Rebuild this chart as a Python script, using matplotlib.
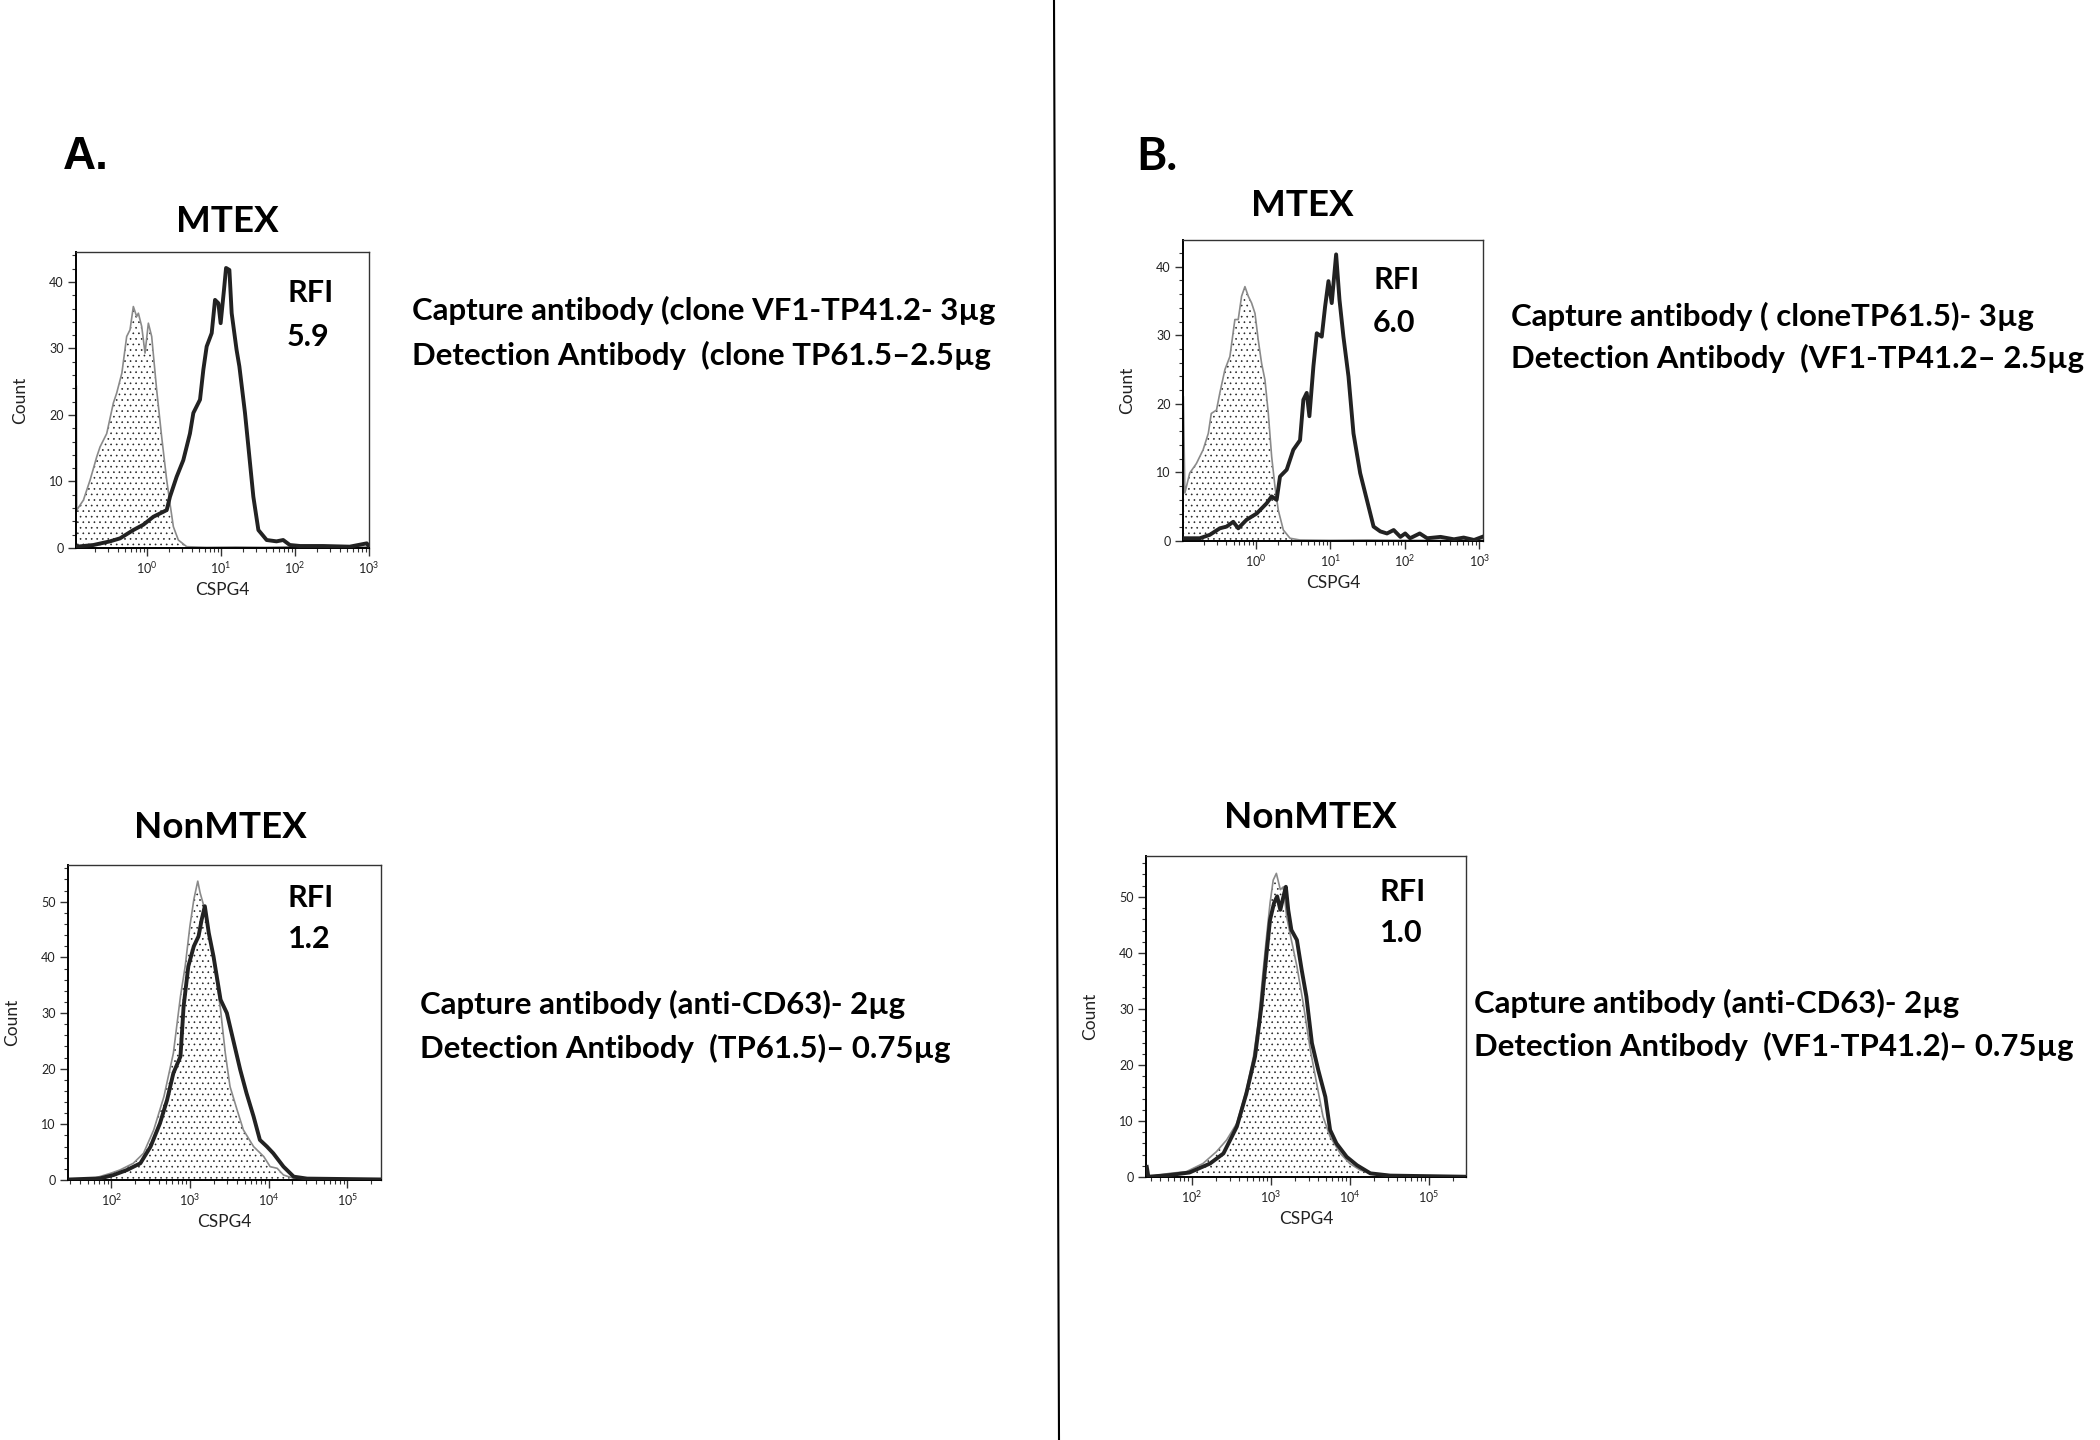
import numpy as np
import matplotlib.pyplot as plt
from matplotlib.ticker import MultipleLocator, LogLocator, NullFormatter

# Werte abgelesen aus der Vorlage
# x = log10(CSPG4), y = Count ; ctrl = graue gepunktete Kurve, samp = schwarze Kurve

# A oben, MTEX
a1_ctrl_x = [-0.955, -0.95, -0.86, -0.77, -0.68, -0.635, -0.545, -0.455, -0.41, -0.34, -0.275, -0.23,
             -0.185, -0.14, -0.117, -0.072, -0.027, 0.018, 0.063, 0.13, 0.198, 0.266, 0.31, 0.356,
             0.423, 0.536, 0.8, 1.2, 1.6, 2.0, 2.5, 3.0]
a1_ctrl_y = [24.3, 5.7, 7.2, 10.2, 13.7, 15.2, 17.2, 21.8, 23.3, 26.3, 31.8, 32.8,
             36.3, 34.8, 35.3, 33.3, 29.3, 33.8, 31.8, 23.8, 16.7, 10.2, 6.7, 3.2,
             1.2, 0.2, 0.1, 0.15, 0.1, 0.2, 0.1, 0.15]
a1_samp_x = [-0.95, -0.725, -0.5, -0.365, -0.185, -0.05, 0.086, 0.266, 0.31, 0.4, 0.49, 0.58, 0.626,
             0.716, 0.761, 0.806, 0.874, 0.919, 0.964, 0.995, 1.04, 1.068, 1.113, 1.144, 1.21,
             1.248, 1.324, 1.37, 1.437, 1.505, 1.617, 1.75, 1.84, 1.93, 2.07, 2.38, 2.74, 2.97, 3.0]
a1_samp_y = [0.2, 0.45, 1.0, 1.45, 2.7, 3.5, 4.7, 5.7, 7.7, 10.7, 13.2, 17.2, 20.3,
             22.3, 26.8, 30.3, 32.3, 37.3, 36.8, 33.8, 38.8, 42.1, 41.8, 35.3, 29.8,
             27.3, 20.3, 15.2, 7.7, 2.7, 1.2, 1.0, 1.2, 0.45, 0.3, 0.3, 0.2, 0.7, 0.2]

# B oben, MTEX
b1_ctrl_x = [-0.975, -0.955, -0.89, -0.8, -0.71, -0.64, -0.6, -0.53, -0.485, -0.417, -0.35, -0.283,
             -0.238, -0.193, -0.148, -0.103, -0.058, -0.013, 0.031, 0.076, 0.121, 0.166, 0.211,
             0.256, 0.3, 0.368, 0.458, 0.59, 1.0, 1.5, 2.0, 2.5, 3.05]
b1_ctrl_y = [21.0, 7.0, 9.9, 11.3, 13.3, 15.7, 18.6, 19.1, 21.6, 25.0, 26.9, 32.3,
             32.3, 35.7, 37.1, 35.7, 34.7, 33.2, 29.3, 25.9, 23.5, 18.6, 12.3,
             7.9, 4.5, 1.6, 0.4, 0.15, 0.1, 0.15, 0.1, 0.1, 0.1]
b1_samp_x = [-0.955, -0.754, -0.62, -0.485, -0.395, -0.305, -0.238, -0.126, 0.009, 0.144, 0.211,
             0.278, 0.323, 0.413, 0.502, 0.592, 0.637, 0.682, 0.718, 0.772, 0.817, 0.884, 0.929,
             0.974, 1.018, 1.077, 1.122, 1.175, 1.243, 1.31, 1.4, 1.49, 1.58, 1.67, 1.76, 1.85,
             1.94, 2.005, 2.07, 2.2, 2.3, 2.48, 2.66, 2.79, 2.93, 3.04]
b1_samp_y = [0.4, 0.4, 0.9, 1.85, 2.1, 2.8, 1.85, 3.1, 4.0, 5.5, 6.5,
             6.0, 9.4, 10.4, 13.3, 14.7, 20.6, 21.6, 18.2, 25.5, 30.3, 29.8, 34.2,
             37.9, 34.7, 41.8, 35.2, 29.8, 24.0, 15.7, 9.9, 6.0, 2.1, 1.4, 1.1, 1.6,
             0.6, 1.1, 0.4, 1.1, 0.4, 0.6, 0.25, 0.5, 0.15, 0.6]

# A unten, NonMTEX
a2_ctrl_x = [1.48, 1.78, 1.99, 2.11, 2.28, 2.41, 2.54, 2.67, 2.79, 2.88, 2.94, 3.0, 3.05, 3.1, 3.13,
             3.19, 3.26, 3.32, 3.39, 3.45, 3.51, 3.6, 3.68, 3.81, 3.94, 4.02, 4.11, 4.19, 4.32,
             4.61, 5.42]
a2_ctrl_y = [0.1, 0.3, 1.2, 1.8, 3.0, 4.8, 9.0, 15.0, 22.8, 33.0, 38.4, 45.6, 50.4, 53.7, 51.6,
             48.6, 43.2, 37.8, 30.6, 22.8, 16.8, 12.6, 9.0, 6.0, 4.2, 2.4, 2.1, 0.9, 0.3,
             0.1, 0.1]
a2_samp_x = [1.48, 1.86, 2.03, 2.2, 2.37, 2.5, 2.62, 2.71, 2.79, 2.88, 2.92, 2.98, 3.05, 3.11, 3.15,
             3.19, 3.24, 3.3, 3.39, 3.47, 3.56, 3.64, 3.72, 3.81, 3.89, 3.98, 4.06, 4.19, 4.32,
             4.49, 5.42]
a2_samp_y = [0.1, 0.3, 0.9, 1.8, 3.0, 6.0, 10.2, 14.4, 19.2, 22.2, 31.2, 38.4, 42.0, 43.8, 46.8,
             49.2, 44.4, 40.2, 32.4, 30.0, 24.6, 19.8, 15.6, 11.4, 7.2, 6.0, 4.8, 2.4, 0.6,
             0.25, 0.1]

# B unten, NonMTEX
b2_ctrl_x = [1.45, 1.72, 1.93, 2.14, 2.31, 2.44, 2.57, 2.69, 2.78, 2.84, 2.9, 2.95, 2.99, 3.03, 3.07,
             3.12, 3.16, 3.2, 3.26, 3.33, 3.41, 3.5, 3.58, 3.66, 3.75, 3.88, 4.0, 4.13, 4.26,
             4.51, 4.68, 5.46]
b2_ctrl_y = [0.05, 0.65, 0.95, 2.4, 4.5, 6.6, 9.6, 15.5, 21.5, 27.4, 36.4, 43.5, 48.9, 53.0, 54.2,
             51.3, 51.8, 46.5, 42.3, 37.6, 31.0, 22.7, 16.7, 10.8, 7.2, 4.2, 2.4, 1.25, 0.65,
             0.35, 0.2, 0.05]
b2_samp_x = [1.43, 1.45, 1.72, 1.97, 2.23, 2.4, 2.57, 2.69, 2.8, 2.88, 2.95, 2.99, 3.04, 3.08, 3.12,
             3.16, 3.19, 3.22, 3.26, 3.33, 3.39, 3.45, 3.52, 3.6, 3.69, 3.75, 3.83, 3.96, 4.09,
             4.26, 4.51, 5.46]
b2_samp_y = [1.8, 0.05, 0.35, 0.8, 2.4, 4.2, 9.0, 14.9, 21.5, 30.4, 40.5, 45.9, 48.9, 50.1, 47.7,
             50.1, 51.8, 47.7, 44.1, 42.3, 37.0, 32.2, 23.9, 19.1, 14.3, 8.4, 6.0, 3.6, 2.1,
             0.65, 0.25, 0.05]

titles = ["MTEX", "MTEX", "NonMTEX", "NonMTEX"]
rfi_werte = ["5.9", "6.0", "1.2", "1.0"]
texte = [
    ["Capture antibody (clone VF1-TP41.2- 3\u00b5g", "Detection Antibody  (clone TP61.5\u20132.5\u00b5g"],
    ["Capture antibody ( cloneTP61.5)- 3\u00b5g", "Detection Antibody  (VF1-TP41.2\u2013 2.5\u00b5g"],
    ["Capture antibody (anti-CD63)- 2\u00b5g", "Detection Antibody  (TP61.5)\u2013 0.75\u00b5g"],
    ["Capture antibody (anti-CD63)- 2\u00b5g", "Detection Antibody  (VF1-TP41.2)\u2013 0.75\u00b5g"],
]

plt.rcParams['font.family'] = ['Lato', 'DejaVu Sans']
plt.rcParams['mathtext.default'] = 'regular'
plt.rcParams['hatch.linewidth'] = 0.45

W, H = 2100, 1440


def fx(x):  # pixel -> figure fraction
    return x / W


def fy(y):
    return 1 - y / H


def panel(fig, box, xlim, ymax, ymajor, cx, cy, sx, sy):
    # box = (links, oben, rechts, unten) in Pixel
    l, t, r, b = box
    ax = fig.add_axes([fx(l), fy(b), (r - l) / W, (b - t) / H])
    ax.set_xscale('log')
    cx = 10 ** np.array(cx)
    sx = 10 ** np.array(sx)
    ax.fill_between(cx, 0, cy, facecolor='white', edgecolor='#222222', hatch='...', linewidth=0, zorder=1)
    ax.plot(cx, cy, color='#8a8a8a', lw=1.2, zorder=2)
    ax.plot(sx, sy, color='#222222', lw=2.8, zorder=3, solid_joinstyle='round')
    ax.set_xlim(10 ** xlim[0], 10 ** xlim[1])
    ax.set_ylim(0, ymax)
    ax.yaxis.set_major_locator(MultipleLocator(ymajor))
    ax.yaxis.set_minor_locator(MultipleLocator(2))
    ax.xaxis.set_major_locator(LogLocator(base=10, subs=(1.0,)))
    ax.xaxis.set_minor_locator(LogLocator(base=10, subs=np.arange(2, 10), numticks=20))
    ax.xaxis.set_minor_formatter(NullFormatter())
    ax.tick_params(which='major', length=6, width=1, color='#333333', labelsize=9,
                   labelcolor='#222222', pad=3)
    ax.tick_params(which='minor', length=3, width=0.8, color='#333333')
    for s in ['left', 'bottom']:
        ax.spines[s].set_linewidth(1.4)
        ax.spines[s].set_color('black')
    for s in ['top', 'right']:
        ax.spines[s].set_linewidth(1.0)
        ax.spines[s].set_color('#333333')
    ax.set_xlabel('CSPG4', fontsize=12.5, color='#222222', labelpad=4)
    ax.set_ylabel('Count', fontsize=12.5, color='#222222', labelpad=15)
    return ax


fig = plt.figure(figsize=(21, 14.4), dpi=100)

boxes = [(76, 252, 369, 548), (1183, 240, 1483, 541), (68, 865, 381, 1180), (1146, 856, 1466, 1177)]
xlims = [(-0.96, 3.0), (-0.98, 3.05), (1.45, 5.43), (1.42, 5.47)]
ymaxs = [44.5, 43.9, 56.6, 57.3]
kurven = [(a1_ctrl_x, a1_ctrl_y, a1_samp_x, a1_samp_y),
          (b1_ctrl_x, b1_ctrl_y, b1_samp_x, b1_samp_y),
          (a2_ctrl_x, a2_ctrl_y, a2_samp_x, a2_samp_y),
          (b2_ctrl_x, b2_ctrl_y, b2_samp_x, b2_samp_y)]
title_pos = [(227, 222), (1302, 205), (220, 828), (1310, 818)]
rfi_pos = [(287, 293, 337), (1373, 280, 323), (288, 898, 939), (1380, 892, 933)]
text_pos = [(412, 310, 355), (1511, 316, 358), (420, 1004, 1048), (1474, 1003, 1046)]

for i in range(4):
    cx, cy, sx, sy = kurven[i]
    panel(fig, boxes[i], xlims[i], ymaxs[i], 10, cx, cy, sx, sy)
    fig.text(fx(title_pos[i][0]), fy(title_pos[i][1]), titles[i], fontsize=26.5, fontweight='bold',
             ha='center', va='center')
    rx, ry1, ry2 = rfi_pos[i]
    fig.text(fx(rx), fy(ry1), "RFI", fontsize=22, fontweight='bold', ha='left', va='center')
    fig.text(fx(rx), fy(ry2), rfi_werte[i], fontsize=22, fontweight='bold', ha='left', va='center')
    tx, ty1, ty2 = text_pos[i]
    fig.text(fx(tx), fy(ty1), texte[i][0], fontsize=22.4, fontweight='bold', ha='left', va='center')
    fig.text(fx(tx), fy(ty2), texte[i][1], fontsize=22.4, fontweight='bold', ha='left', va='center')

# Panel-Buchstaben
fig.text(fx(63), fy(157), "A.", fontsize=33, fontweight='bold', family='Liberation Sans',
         ha='left', va='center')
fig.text(fx(1136), fy(157), "B.", fontsize=33, fontweight='bold', ha='left', va='center')

# Trennlinie in der Mitte
fig.add_artist(plt.Line2D([fx(1054), fx(1059)], [fy(0), fy(1440)], color='black', lw=1.5))

fig.savefig('out.png', dpi=100)
